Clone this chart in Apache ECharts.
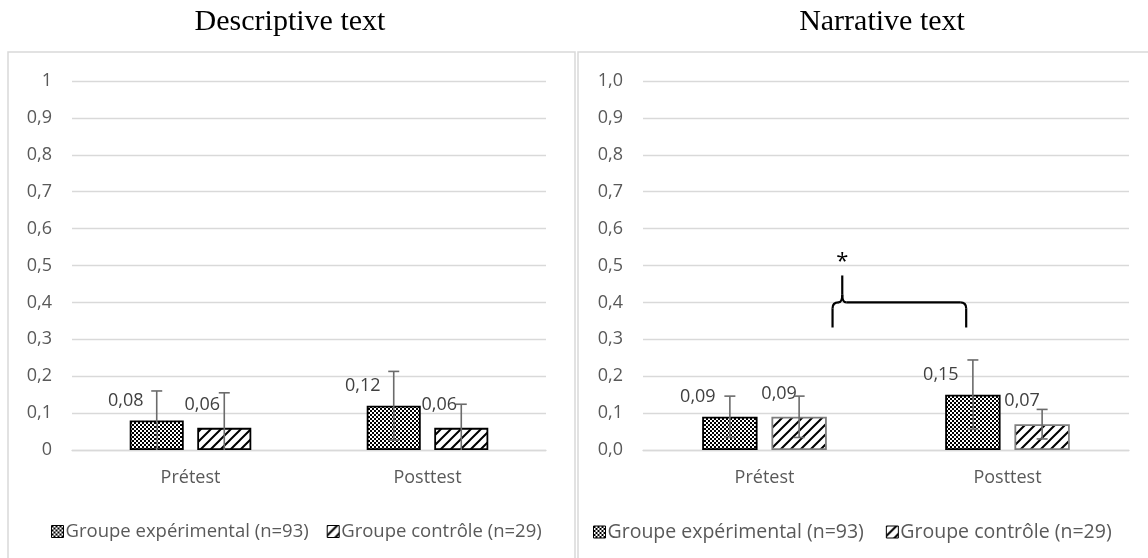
<!DOCTYPE html>
<html>
<head>
<meta charset="utf-8">
<script src="https://cdn.jsdelivr.net/npm/echarts@6/dist/echarts.min.js"></script>
<style>
  html, body { margin: 0; padding: 0; background: #fff; }
  #main { width: 1148px; height: 558px; }
</style>
</head>
<body>
<div id="main"></div>
<script>
// categories & groups
const categories = ['Prétest', 'Posttest']
const groupNames = ['Groupe expérimental (n=93)', 'Groupe contrôle (n=29)']

// Descriptive text
const descExp = [0.08, 0.12]
const descCtrl = [0.06, 0.06]
const descExpErr = [0.08, 0.093]
const descCtrlErr = [0.095, 0.064]

// Narrative text
const narrExp = [0.09, 0.15]
const narrCtrl = [0.09, 0.07]
const narrExpErr = [0.056, 0.094]
const narrCtrlErr = [0.056, 0.04]

const FONT = '"Open Sans", "Noto Sans", sans-serif'
const BAR_W = 0.228   // part of the category band
const BAR_GAP = 0.25  // gap between the two bars, part of bar width

// brace annotation on the narrative panel (category fraction / y value)
const BRACE = { from: 0.28, tip: 0.32, to: 0.83, y: 0.4, foot: 0.332, peak: 0.473, star: 0.51 }

// 图案
function checkerPattern () {
  const c = document.createElement('canvas')
  c.width = 4; c.height = 4
  const ctx = c.getContext('2d')
  ctx.fillStyle = '#fff'; ctx.fillRect(0, 0, 4, 4)
  ctx.fillStyle = '#000'
  ctx.fillRect(0, 0, 2, 2)
  ctx.fillRect(2, 2, 2, 2)
  return { image: c, repeat: 'repeat' }
}

function hatchPattern () {
  const s = 10
  const c = document.createElement('canvas')
  c.width = s; c.height = s
  const ctx = c.getContext('2d')
  ctx.fillStyle = '#fff'; ctx.fillRect(0, 0, s, s)
  ctx.strokeStyle = '#000'
  ctx.lineWidth = 2
  ctx.beginPath()
  ctx.moveTo(-1, s + 1); ctx.lineTo(s + 1, -1)
  ctx.moveTo(-1, 1); ctx.lineTo(1, -1)
  ctx.moveTo(s - 1, s + 1); ctx.lineTo(s + 1, s - 1)
  ctx.stroke()
  return { image: c, repeat: 'repeat' }
}

const CHECK = checkerPattern()
const HATCH = hatchPattern()

const fmt = v => v.toFixed(2).replace('.', ',')

// error bars drawn at the bar centre; side -1 = first bar, 1 = second
function errorRender (side) {
  return (params, api) => {
    const i = api.value(0)
    const v = api.value(1)
    const e = api.value(2)
    const band = api.size([1, 0])[0]
    const bw = band * BAR_W
    const x = api.coord([i, v])[0] + side * (bw + bw * BAR_GAP) / 2
    const yHi = api.coord([i, v + e])[1]
    const low = Math.max(0, v - e)
    const yLo = api.coord([i, low])[1]
    const style = { stroke: '#6b6b6b', lineWidth: 1.6 }
    const children = [
      { type: 'line', shape: { x1: x, y1: yHi, x2: x, y2: yLo }, style },
      { type: 'line', shape: { x1: x - 5.5, y1: yHi, x2: x + 5.5, y2: yHi }, style }
    ]
    if (low > 0) {
      children.push({ type: 'line', shape: { x1: x - 5.5, y1: yLo, x2: x + 5.5, y2: yLo }, style })
    }
    return { type: 'group', children }
  }
}

function errData (vals, errs) {
  return vals.map((v, i) => [i, v, errs[i]])
}

// 括号 + 星号
function braceRender (params, api) {
  const p0 = api.coord([0, BRACE.y])
  const p1 = api.coord([1, BRACE.y])
  const bx = t => p0[0] + (p1[0] - p0[0]) * t
  const by = v => api.coord([0, v])[1]
  const xL = bx(BRACE.from), xT = bx(BRACE.tip), xR = bx(BRACE.to)
  const yH = by(BRACE.y), yF = by(BRACE.foot), yP = by(BRACE.peak)
  const r = 6
  const style = { stroke: '#000', lineWidth: 2.2, fill: null }
  const line = (x1, y1, x2, y2) => ({ type: 'line', shape: { x1, y1, x2, y2 }, style })
  const curve = (x1, y1, cx, cy, x2, y2) => ({ type: 'bezierCurve', shape: { x1, y1, x2, y2, cpx1: cx, cpy1: cy }, style })
  return {
    type: 'group',
    children: [
      line(xL, yF, xL, yH + r),
      curve(xL, yH + r, xL, yH, xL + r, yH),
      line(xL + r, yH, xT - 4, yH),
      curve(xT - 4, yH, xT, yH, xT, yH - 8),
      line(xT, yH - 8, xT, yP),
      curve(xT, yH - 8, xT, yH, xT + 4, yH),
      line(xT + 4, yH, xR - r, yH),
      curve(xR - r, yH, xR, yH, xR, yH + r),
      line(xR, yH + r, xR, yF),
      {
        type: 'text',
        x: xT,
        y: by(BRACE.star),
        style: { text: '*', fill: '#000', font: '22px ' + FONT, textAlign: 'center', textVerticalAlign: 'middle' }
      }
    ]
  }
}

function barSeries (name, idx, data, pattern, border, offsetX, offsetY) {
  return {
    type: 'bar',
    name,
    xAxisIndex: idx,
    yAxisIndex: idx,
    data,
    barWidth: (BAR_W * 100) + '%',
    barGap: (BAR_GAP * 100) + '%',
    itemStyle: { color: pattern, borderColor: border, borderWidth: 1.8 },
    label: {
      show: true,
      position: 'top',
      offset: [offsetX, offsetY],
      formatter: p => fmt(p.value),
      color: '#404040',
      fontFamily: FONT,
      fontSize: 18
    },
    emphasis: { disabled: true }
  }
}

function errSeries (idx, vals, errs, side) {
  return {
    type: 'custom',
    name: 'err' + idx + side,
    xAxisIndex: idx,
    yAxisIndex: idx,
    renderItem: errorRender(side),
    data: errData(vals, errs),
    z: 5,
    silent: true
  }
}

const axisLabelStyle = { color: '#595959', fontFamily: FONT, fontSize: 18 }

function xAxis (idx) {
  return {
    type: 'category',
    gridIndex: idx,
    data: categories,
    axisTick: { show: false },
    axisLine: { lineStyle: { color: '#d9d9d9', width: 1.3 } },
    axisLabel: { ...axisLabelStyle, margin: 19 }
  }
}

function yAxis (idx, decimals) {
  return {
    type: 'value',
    gridIndex: idx,
    min: 0,
    max: 1,
    interval: 0.1,
    axisLine: { show: false },
    axisTick: { show: false },
    splitLine: { lineStyle: { color: '#d9d9d9', width: 1.3 } },
    axisLabel: {
      ...axisLabelStyle,
      margin: 20,
      formatter: v => {
        if (decimals === 0 && (v === 0 || v === 1)) return String(v)
        return v.toFixed(1).replace('.', ',')
      }
    }
  }
}

function legend (left, fontSize, gap) {
  return {
    data: groupNames,
    left,
    top: 517,
    icon: 'rect',
    itemWidth: 12,
    itemHeight: 12,
    itemGap: gap,
    itemStyle: { borderColor: '#000', borderWidth: 1 },
    textStyle: { color: '#595959', fontFamily: FONT, fontSize, padding: [0, 0, 0, -3] },
    selectedMode: false
  }
}

const titleStyle = { color: '#000', fontFamily: '"Liberation Serif", "Times New Roman", serif', fontSize: 30, fontWeight: 'normal' }

const chart = echarts.init(document.getElementById('main'))

chart.setOption({
  animation: false,
  title: [
    { text: 'Descriptive text', left: 285, top: 2, textAlign: 'center', textStyle: titleStyle },
    { text: 'Narrative text', left: 877, top: 2, textAlign: 'center', textStyle: titleStyle }
  ],
  legend: [legend(46, 18.5, 18), legend(588, 19.5, 22)],
  grid: [
    { left: 72, right: 602, top: 81, bottom: 108 },
    { left: 643, right: 19, top: 81, bottom: 108 }
  ],
  xAxis: [xAxis(0), xAxis(1)],
  yAxis: [yAxis(0, 0), yAxis(1, 1)],
  graphic: [
    { type: 'rect', shape: { x: 8, y: 52, width: 567, height: 520 }, style: { fill: 'none', stroke: '#d9d9d9', lineWidth: 1.5 }, z: -1, silent: true },
    { type: 'rect', shape: { x: 578, y: 52, width: 580, height: 520 }, style: { fill: 'none', stroke: '#d9d9d9', lineWidth: 1.5 }, z: -1, silent: true }
  ],
  series: [
    barSeries(groupNames[0], 0, descExp, CHECK, '#000', -31, -6),
    barSeries(groupNames[1], 0, descCtrl, HATCH, '#000', -22, -9),
    errSeries(0, descExp, descExpErr, -1),
    errSeries(0, descCtrl, descCtrlErr, 1),
    barSeries(groupNames[0], 1, narrExp, CHECK, '#000', -32, -6),
    barSeries(groupNames[1], 1, narrCtrl, HATCH, '#7f7f7f', -20, -9),
    errSeries(1, narrExp, narrExpErr, -1),
    errSeries(1, narrCtrl, narrCtrlErr, 1),
    {
      type: 'custom',
      name: 'brace',
      xAxisIndex: 1,
      yAxisIndex: 1,
      renderItem: braceRender,
      data: [[0, BRACE.y]],
      z: 10,
      silent: true
    }
  ]
})
</script>
</body>
</html>
